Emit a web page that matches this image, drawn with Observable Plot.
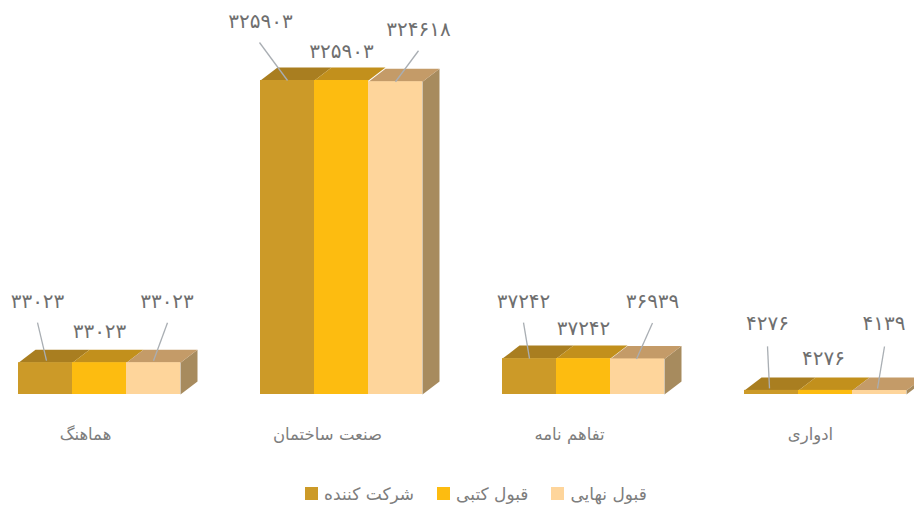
<!DOCTYPE html>
<html lang="fa">
<head>
<meta charset="utf-8">
<script src="https://cdn.jsdelivr.net/npm/d3@7"></script>
<script src="https://cdn.jsdelivr.net/npm/@observablehq/plot@0.6"></script>
<style>
html,body{margin:0;padding:0;background:#fff;overflow:hidden}
#legend{display:flex;justify-content:center;align-items:center;height:37px;margin-top:5px;padding-left:38px;box-sizing:border-box;font:17px "DejaVu Sans",sans-serif;color:#7d7d7d}
#legend i{display:inline-block;width:13px;height:13px;margin-right:6px}
#legend span{direction:rtl;margin-right:23px;white-space:nowrap}
#legend span:last-child{margin-right:0}
svg{display:block}
</style>
</head>
<body>
<div id="chart"></div>
<div id="legend"></div>
<script>
const categories = ["هماهنگ", "صنعت ساختمان", "تفاهم نامه", "ادواری"];
const seriesNames = ["شرکت کننده", "قبول کتبی", "قبول نهایی"];
const participants = [33023, 325903, 37242, 4276];
const writtenPass = [33023, 325903, 37242, 4276];
const finalPass = [33023, 324618, 36939, 4139];
const seriesValues = [participants, writtenPass, finalPass];

const frontColors = ["#CC9A28", "#FDBC10", "#FED59B"];
const topColors = ["#A97E20", "#C2901C", "#C49B68"];
const sideColor = "#A78B5E";

// layout, in pixels, kept apart from the data
const W = 914, H = 470, baseY = 394, topY = 80, maxV = 325903;
const barW = 54, groupStep = 242, firstX = 18, depthX = 17, depthY = 13;
const labelDx = [[-8, 0, 13.5], [-27, 0, 23], [-6, 0, 15], [-4, -2, 4.5]];
const labelDy = [[-61, -31, -61], [-59, -29, -52], [-57, -30, -57], [-67, -32, -67]];
const categoryDx = [-14, -14, -14, -15];
const leaderStart = [[[-8, -40], null, [14, -40]], [[-28, -38], null, [23, -31]], [[-6, -36], null, [15, -36]], [[-4, -44], null, [5, -44]]];
const leaderEnd = [[[1, -2], null, [0, -2]], [[0, 0], null, [0, 0]], [[0, 0], null, [-1, 0]], [[-2, -2], null, [-2, -2]]];

const unitY = maxV / (baseY - topY);
const xu = px => px / barW;        // pixels to bar widths
const yu = px => px * unitY;       // pixels to value units
const toFa = n => String(n).replace(/\d/g, d => "۰۱۲۳۴۵۶۷۸۹"[d]);

const bars = [];
categories.forEach((c, g) => seriesNames.forEach((s, j) => {
  const x1 = xu(firstX + g * groupStep) + j;
  bars.push({c, g, s, j, x1, x2: x1 + 1, v: seriesValues[j][g]});
}));

const poly = (id, color, pts) => pts.map(([x, y]) => ({id, color, x, y}));
const tops = bars.flatMap(b => poly("t" + b.g + b.j, topColors[b.j], [
  [b.x1, b.v], [b.x2, b.v], [b.x2 + xu(depthX), b.v + yu(depthY)], [b.x1 + xu(depthX), b.v + yu(depthY)]
]));
const sides = bars.filter(b => b.j === 2).flatMap(b => poly("s" + b.g, sideColor, [
  [b.x2, 0], [b.x2 + xu(depthX), yu(depthY)], [b.x2 + xu(depthX), b.v + yu(depthY)], [b.x2, b.v]
]));

const leaders = bars.filter(b => leaderStart[b.g][b.j]).map(b => {
  const [dx, dy] = leaderStart[b.g][b.j];
  const [ex, ey] = leaderEnd[b.g][b.j];
  const xc = b.x1 + 0.5;
  return {x1: xc + xu(dx), y1: b.v - yu(dy), x2: xc + xu(ex), y2: b.v - yu(ey)};
});

const chart = Plot.plot({
  width: W, height: H,
  marginLeft: 0, marginRight: 0, marginTop: 0, marginBottom: H - baseY,
  x: {domain: [0, xu(W)], axis: null},
  y: {domain: [0, maxV], range: [baseY, topY], clamp: false, axis: null},
  color: {type: "identity"},
  style: {fontFamily: "'DejaVu Sans', sans-serif", background: "#fff", overflow: "hidden"},
  marks: [
    Plot.line(sides, {x: "x", y: "y", z: "id", fill: "color", stroke: null, curve: "linear-closed"}),
    Plot.line(tops, {x: "x", y: "y", z: "id", fill: "color", stroke: null, curve: "linear-closed"}),
    Plot.rect(bars, {x1: "x1", x2: "x2", y1: 0, y2: "v", fill: b => frontColors[b.j], inset: 0}),
    Plot.link(leaders, {x1: "x1", y1: "y1", x2: "x2", y2: "y2", stroke: "#A9AEB3", strokeWidth: 1.3}),
    Plot.text(bars, {
      x: b => b.x1 + 0.5 + xu(labelDx[b.g][b.j]),
      y: b => b.v - yu(labelDy[b.g][b.j]),
      text: b => toFa(b.v),
      fontSize: 20, fill: "#6f6f6f", textAnchor: "middle"
    }),
    Plot.text(categories, {
      x: (c, g) => xu(firstX + g * groupStep) + 1.5 + xu(categoryDx[g]),
      y: 0, dy: 40, text: c => c,
      fontSize: 16.5, fill: "#7d7d7d", textAnchor: "middle"
    })
  ]
});
document.getElementById("chart").append(chart);

const legend = document.getElementById("legend");
seriesNames.forEach((s, j) => {
  const sw = document.createElement("i");
  sw.style.background = frontColors[j];
  const t = document.createElement("span");
  t.textContent = s;
  legend.append(sw, t);
});
</script>
</body>
</html>
